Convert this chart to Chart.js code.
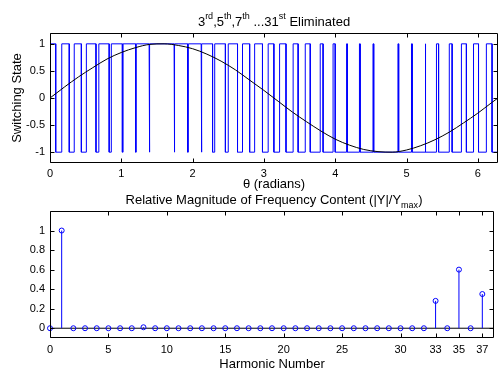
<!DOCTYPE html>
<html>
<head>
<meta charset="utf-8">
<script src="https://cdn.jsdelivr.net/npm/chart.js@4.4.0/dist/chart.umd.min.js"></script>
<style>
  body { margin: 0; background: #fff; }
  #wrap { position: relative; width: 499px; height: 368px; overflow: hidden;
          font-family: "Liberation Sans", Arial, Helvetica, sans-serif; color: #000; }
  #c1 { position: absolute; left: 0; top: 0; }
  #c2 { position: absolute; left: 0; top: 192px; }
  .title { position: absolute; left: 50px; width: 448px; height: 15px; line-height: 15px;
           text-align: center; font-size: 13px; white-space: nowrap; }
  .title sup { font-size: 9px; line-height: 0; vertical-align: 7px; }
  .title sub { font-size: 9px; line-height: 0; vertical-align: -4px; }
</style>
</head>
<body>
<div id="wrap">
  <canvas id="c1" width="499" height="192"></canvas>
  <canvas id="c2" width="499" height="180"></canvas>
  <div class="title" style="top:14px">3<sup>rd</sup>,5<sup>th</sup>,7<sup>th</sup> ...31<sup>st</sup> Eliminated</div>
  <div class="title" style="top:192px">Relative Magnitude of Frequency Content (|Y|/Y<sub>max</sub>)</div>
</div>
<script>
// ---- top plot: switching pattern over one period ----
// angles (rad) where the state flips, state is +1 at theta = 0
var switchAngles = [
  0.08, 0.165, 0.27, 0.34, 0.44, 0.51, 0.645, 0.685, 0.83, 0.86, 1.015, 1.025,
  1.20, 1.21, 1.39, 1.40, 1.74, 1.75, 1.93, 1.94, 2.12, 2.13, 2.28, 2.31,
  2.46, 2.50, 2.63, 2.70, 2.80, 2.87, 2.98, 3.06, 3.14,
  3.22, 3.31, 3.41, 3.48, 3.58, 3.65, 3.79, 3.83, 3.97, 4.00, 4.16, 4.17,
  4.34, 4.35, 4.53, 4.54, 4.88, 4.89, 5.07, 5.08, 5.26, 5.27, 5.42, 5.45,
  5.60, 5.64, 5.77, 5.84, 5.94, 6.01, 6.12, 6.20
];
// fundamental (black curve)
var fundTheta = [0, 0.2, 0.4, 0.6, 0.8, 1.0, 1.2, 1.4, 1.6, 1.8, 2.0, 2.2, 2.4, 2.6, 2.8, 3.0,
  3.2, 3.4, 3.6, 3.8, 4.0, 4.2, 4.4, 4.6, 4.8, 5.0, 5.2, 5.4, 5.6, 5.8, 6.0, 6.2, 6.283];
var fundValue = [0, 0.2, 0.39, 0.56, 0.72, 0.84, 0.93, 0.99, 1.0, 0.97, 0.91, 0.81, 0.68, 0.52, 0.33, 0.14,
  -0.06, -0.26, -0.44, -0.61, -0.76, -0.87, -0.95, -0.99, -1.0, -0.96, -0.88, -0.77, -0.63, -0.46, -0.28, -0.08, 0];
var thetaTicks = [0, 1, 2, 3, 4, 5, 6];
var stateTicks = [-1, -0.5, 0, 0.5, 1];

// ---- bottom plot: harmonic magnitudes 0..37 ----
var harmonics = [];
for (var h = 0; h <= 37; h++) harmonics.push(h);
var magnitudes = [0, 1.0, 0, 0, 0, 0, 0, 0, 0.01, 0, 0, 0, 0, 0, 0, 0, 0, 0, 0, 0,
  0, 0, 0, 0, 0, 0, 0, 0, 0, 0, 0, 0, 0, 0.28, 0, 0.60, 0, 0.35];
var harmonicTicks = [0, 5, 10, 15, 20, 25, 30, 33, 35, 37];
var magTicks = [0, 0.2, 0.4, 0.6, 0.8, 1];

var blue = '#0000ff';
Chart.defaults.font.family = '"Liberation Sans", Arial, Helvetica, sans-serif';
Chart.defaults.color = '#000';

// square wave as explicit vertical steps
var statePts = [{x: 0, y: -1}, {x: 0, y: 1}];
var s = 1;
switchAngles.forEach(function (a) {
  statePts.push({x: a, y: s});
  s = -s;
  statePts.push({x: a, y: s});
});
statePts.push({x: 2 * Math.PI, y: s});

var fundPts = fundTheta.map(function (t, i) { return {x: t, y: fundValue[i]}; });

// stems as separate segments, broken by gaps
var stemPts = [];
var markPts = [];
harmonics.forEach(function (h, i) {
  stemPts.push({x: h, y: 0}, {x: h, y: magnitudes[i]}, {x: h, y: null});
  markPts.push({x: h, y: magnitudes[i]});
});

// matlab style box with inward tick marks
var boxPlugin = {
  id: 'box',
  afterDatasetsDraw: function (chart) {
    var ctx = chart.ctx, a = chart.chartArea;
    var xs = chart.scales.x, ys = chart.scales.y;
    var l = Math.round(a.left) + 0.5, r = Math.round(a.right) - 0.5;
    var t = Math.round(a.top) + 0.5, b = Math.round(a.bottom) - 0.5;
    ctx.save();
    ctx.strokeStyle = '#000';
    ctx.lineWidth = 1;
    ctx.beginPath();
    ctx.rect(l, t, r - l, b - t);
    xs.ticks.forEach(function (tk) {
      var px = Math.round(xs.getPixelForValue(tk.value)) + 0.5;
      ctx.moveTo(px, b); ctx.lineTo(px, b - 4);
      ctx.moveTo(px, t); ctx.lineTo(px, t + 4);
    });
    ys.ticks.forEach(function (tk) {
      var py = Math.round(ys.getPixelForValue(tk.value)) + 0.5;
      ctx.moveTo(l, py); ctx.lineTo(l + 4, py);
      ctx.moveTo(r, py); ctx.lineTo(r - 4, py);
    });
    ctx.stroke();
    ctx.restore();
  }
};

function setTicks(list) {
  return function (scale) {
    scale.ticks = list.map(function (v) { return {value: v}; });
  };
}
function plainLabel(v) { return String(v); }

new Chart(document.getElementById('c1'), {
  type: 'line',
  data: {
    datasets: [
      {data: fundPts, borderColor: '#000', borderWidth: 1, pointRadius: 0,
       cubicInterpolationMode: 'monotone', order: 0},
      {data: statePts, borderColor: blue, borderWidth: 1, pointRadius: 0, tension: 0, order: 1}
    ]
  },
  options: {
    responsive: false,
    animation: false,
    layout: {padding: {top: 33, right: 1, left: 0, bottom: 0}},
    plugins: {legend: {display: false}, tooltip: {enabled: false}},
    scales: {
      x: {
        type: 'linear', min: 0, max: 2 * Math.PI,
        grid: {display: false, drawTicks: false}, border: {display: false},
        afterBuildTicks: setTicks(thetaTicks),
        afterFit: function (sc) { sc.height = 29; },
        ticks: {font: {size: 11}, padding: 4, maxRotation: 0, autoSkip: false, callback: plainLabel},
        title: {display: true, text: 'θ (radians)', font: {size: 13}, padding: {top: 0, bottom: 0}}
      },
      y: {
        min: -1.2, max: 1.2,
        grid: {display: false, drawTicks: false}, border: {display: false},
        afterBuildTicks: setTicks(stateTicks),
        afterFit: function (sc) { sc.width = 50; },
        ticks: {font: {size: 11}, padding: 5, callback: plainLabel},
        title: {display: true, text: 'Switching State', font: {size: 13}, padding: {top: 10, bottom: 0}}
      }
    }
  },
  plugins: [boxPlugin]
});

new Chart(document.getElementById('c2'), {
  type: 'line',
  data: {
    datasets: [
      {data: markPts, showLine: false, pointRadius: 2.5, pointStyle: 'circle',
       pointBorderColor: blue, pointBackgroundColor: 'rgba(0,0,0,0)', pointBorderWidth: 1,
       clip: false, order: 0},
      {data: stemPts, borderColor: blue, borderWidth: 1, pointRadius: 0, spanGaps: false, order: 1},
      {data: [{x: 0, y: 0}, {x: 38, y: 0}], borderColor: '#000', borderWidth: 1, pointRadius: 0, order: 2}
    ]
  },
  options: {
    responsive: false,
    animation: false,
    layout: {padding: {top: 19, right: 2, left: 0, bottom: 0}},
    plugins: {legend: {display: false}, tooltip: {enabled: false}},
    scales: {
      x: {
        type: 'linear', min: 0, max: 38,
        grid: {display: false, drawTicks: false}, border: {display: false},
        afterBuildTicks: setTicks(harmonicTicks),
        afterFit: function (sc) { sc.height = 34; },
        ticks: {font: {size: 11}, padding: 5, maxRotation: 0, autoSkip: false, callback: plainLabel},
        title: {display: true, text: 'Harmonic Number', font: {size: 13}, padding: {top: 0, bottom: 0}}
      },
      y: {
        min: -0.1, max: 1.2,
        grid: {display: false, drawTicks: false}, border: {display: false},
        afterBuildTicks: setTicks(magTicks),
        afterFit: function (sc) { sc.width = 50; },
        ticks: {font: {size: 11}, padding: 5, callback: plainLabel}
      }
    }
  },
  plugins: [boxPlugin]
});
</script>
</body>
</html>
